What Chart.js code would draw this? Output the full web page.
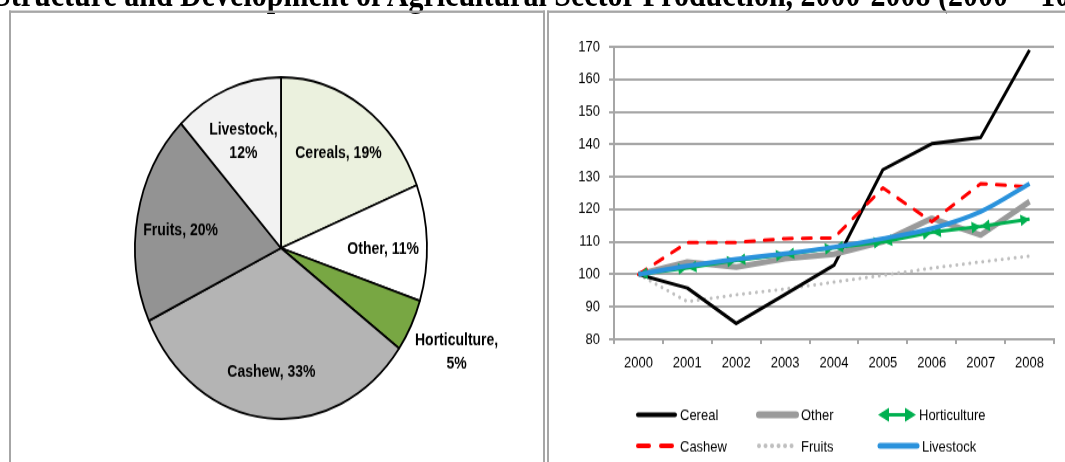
<!DOCTYPE html>
<html>
<head>
<meta charset="utf-8">
<script src="https://cdn.jsdelivr.net/npm/chart.js@4.4.0/dist/chart.umd.min.js"></script>
<style>
  html { overflow: hidden; }
  body { margin: 0; padding: 0; background: #fff; height: 462px; }
  /* the source picture is stretched vertically, so the whole page is too */
  #page { position: relative; width: 1065px; height: 395px; transform: scaleY(1.17); transform-origin: 0 0; overflow: hidden; }
  #title { position: absolute; left: -6px; top: -22px; line-height: 1; font: bold 30px 'Liberation Serif', 'Times New Roman', serif; white-space: nowrap; color: #000; }
  .panel { position: absolute; top: 8.5px; height: 420px; border: 2px solid #a6a6a6; border-bottom: none; }
  #leftPanel { left: 9px; width: 532px; }
  #rightPanel { left: 547px; width: 600px; border-right: none; }
  #pie { position: absolute; left: 0; top: 0; }
  #lines { position: absolute; left: 550px; top: 0; }
</style>
</head>
<body>
<div id="page">
  <div id="title">Structure and Development of Agricultural Sector Production, 2000-2008 (2000 = 100)</div>
  <div class="panel" id="leftPanel"></div>
  <div class="panel" id="rightPanel"></div>
  <canvas id="pie" width="545" height="424"></canvas>
  <canvas id="lines" width="515" height="395"></canvas>
</div>
<script>
// pie: shares of production
const pieLabels = ['Cereals', 'Other', 'Horticulture', 'Cashew', 'Fruits', 'Livestock'];
const pieShares = [19, 11, 5, 33, 20, 12];
const pieColors = ['#ebf1de', '#ffffff', '#78a743', '#b4b4b4', '#939393', '#f2f2f2'];

// lines: index 2000 = 100
const years = ['2000', '2001', '2002', '2003', '2004', '2005', '2006', '2007', '2008'];
const cereal = [100, 95.8, 84.9, 93.8, 102.8, 132.2, 140.2, 142.1, 169];
const other = [100, 103.8, 102.2, 104.8, 106.2, 110, 117.2, 112.1, 122.4];
const horticulture = [100, 102, 104.3, 106.1, 108.2, 110, 112.9, 114.7, 117];
const cashew = [100, 109.8, 109.8, 111, 111.2, 126.6, 116.2, 127.9, 126.9];
const fruits = [100, 91.6, 93.7, 95.5, 97.6, 99.7, 101.9, 103.8, 105.6];
const livestock = [100, 102.6, 104.7, 106.4, 108.4, 111, 114.1, 119.3, 127.9];

const font = "'Liberation Sans', Arial, sans-serif";
const gridGrey = '#a6a6a6';

const pieLabelsPlugin = {
  id: 'pieLabels',
  afterDatasetsDraw(chart) {
    const ctx = chart.ctx;
    const meta = chart.getDatasetMeta(0);
    ctx.save();
    ctx.font = 'bold 14px ' + font;
    ctx.fillStyle = '#000';
    ctx.textAlign = 'center';
    ctx.textBaseline = 'middle';
    meta.data.forEach((arc, i) => {
      const p = arc.getProps(['x', 'y', 'startAngle', 'endAngle', 'outerRadius'], true);
      const mid = (p.startAngle + p.endAngle) / 2;
      const share = pieShares[i];
      const outside = share < 8;
      const r = p.outerRadius * (outside ? 1.35 : 0.7);
      const lx = p.x + Math.cos(mid) * r;
      const ly = p.y + Math.sin(mid) * r + (outside ? 0 : 4);
      const name = pieLabels[i];
      const lines = name.length >= 9 ? [name + ',', share + '%'] : [name + ', ' + share + '%'];
      lines.forEach((t, k) => ctx.fillText(t, lx, ly + (k - (lines.length - 1) / 2) * 20));
    });
    ctx.restore();
  }
};

new Chart(document.getElementById('pie'), {
  type: 'pie',
  data: {
    labels: pieLabels,
    datasets: [{
      data: pieShares,
      backgroundColor: pieColors,
      borderColor: '#000',
      borderWidth: 1.8,
      radius: 146
    }]
  },
  options: {
    responsive: false,
    animation: false,
    layout: { padding: { left: 17 } },
    plugins: { legend: { display: false }, tooltip: { enabled: false } }
  },
  plugins: [pieLabelsPlugin]
});

function arrowHead(ctx, from, to, len, half) {
  const a = Math.atan2(to.y - from.y, to.x - from.x);
  ctx.beginPath();
  ctx.moveTo(to.x, to.y);
  ctx.lineTo(to.x - len * Math.cos(a) + half * Math.sin(a), to.y - len * Math.sin(a) - half * Math.cos(a));
  ctx.lineTo(to.x - len * Math.cos(a) - half * Math.sin(a), to.y - len * Math.sin(a) + half * Math.cos(a));
  ctx.closePath();
  ctx.fill();
}

// horticulture segments carry arrow heads at both ends
const arrowPlugin = {
  id: 'arrows',
  afterDatasetDraw(chart, args) {
    const ds = chart.data.datasets[args.index];
    if (!ds.arrows) return;
    const pts = args.meta.data;
    const ctx = chart.ctx;
    ctx.save();
    ctx.fillStyle = ds.borderColor;
    for (let i = 1; i < pts.length; i++) {
      arrowHead(ctx, pts[i - 1], pts[i], 9, 5);
      arrowHead(ctx, pts[i], pts[i - 1], 9, 5);
    }
    ctx.restore();
  }
};

// legend laid out in three even columns
const legendGrid = {
  id: 'legendGrid',
  afterDraw(chart, args, opts) {
    const ctx = chart.ctx;
    chart.data.datasets.forEach((ds, i) => {
      const x = chart.chartArea.left + opts.left + (i % 3) * opts.colWidth;
      const y = opts.top + Math.floor(i / 3) * opts.rowHeight;
      ctx.save();
      ctx.strokeStyle = ds.borderColor;
      ctx.fillStyle = ds.borderColor;
      ctx.lineWidth = ds.borderWidth + 1;
      ctx.lineCap = 'round';
      ctx.setLineDash(ds.legendDash || ds.borderDash || []);
      if (ds.arrows) {
        ctx.lineWidth = 3;
        ctx.beginPath();
        ctx.moveTo(x + 8, y);
        ctx.lineTo(x + 30, y);
        ctx.stroke();
        arrowHead(ctx, {x: x + 10, y: y}, {x: x, y: y}, 11, 6);
        arrowHead(ctx, {x: x + 28, y: y}, {x: x + 38, y: y}, 11, 6);
      } else {
        ctx.beginPath();
        ctx.moveTo(x + 2, y);
        ctx.lineTo(x + 39, y);
        ctx.stroke();
      }
      ctx.setLineDash([]);
      ctx.fillStyle = '#000';
      ctx.font = '13px ' + font;
      ctx.textBaseline = 'middle';
      ctx.fillText(ds.label, x + (ds.arrows ? 41 : 44), y + 1);
      ctx.restore();
    });
  }
};

new Chart(document.getElementById('lines'), {
  type: 'line',
  data: {
    labels: years,
    datasets: [
      { label: 'Cereal', data: cereal, borderColor: '#000000', borderWidth: 3, order: 4 },
      { label: 'Other', data: other, borderColor: '#9a9a9a', borderWidth: 5, order: 3 },
      { label: 'Horticulture', data: horticulture, borderColor: '#00b050', borderWidth: 3, arrows: true, order: 1 },
      { label: 'Cashew', data: cashew, borderColor: '#ff0000', borderWidth: 3, borderDash: [9, 10], borderCapStyle: 'round', legendDash: [11, 12], order: 2 },
      { label: 'Fruits', data: fruits, borderColor: '#bfbfbf', borderWidth: 3, borderDash: [0.01, 6.5], borderCapStyle: 'round', order: 5 },
      { label: 'Livestock', data: livestock, borderColor: '#2a92dc', borderWidth: 4, cubicInterpolationMode: 'monotone', order: 0 },
    ],
  },
  options: {
    responsive: false,
    animation: false,
    elements: { point: { radius: 0 }, line: { borderJoinStyle: 'round' } },
    layout: { padding: { top: 40, right: 11, bottom: 75, left: 0 } },
    plugins: {
      legend: { display: false },
      tooltip: { enabled: false },
      legendGrid: { left: 22, top: 354.5, colWidth: 121, rowHeight: 26.5 }
    },
    scales: {
      x: {
        offset: true,
        grid: { offset: true, drawOnChartArea: false, color: gridGrey, lineWidth: 2, tickLength: 4 },
        border: { color: gridGrey, width: 2 },
        ticks: { color: '#000', font: { family: font, size: 13 }, padding: 9, maxRotation: 0 },
        afterFit: (s) => { s.height = 30; }
      },
      y: {
        min: 80,
        max: 170,
        grid: { color: gridGrey, lineWidth: 2, tickLength: 5 },
        border: { color: gridGrey, width: 2 },
        ticks: { stepSize: 10, color: '#000', font: { family: font, size: 13 }, padding: 9 },
        afterFit: (s) => { s.width = 64; }
      }
    }
  },
  plugins: [arrowPlugin, legendGrid]
});
</script>
</body>
</html>
